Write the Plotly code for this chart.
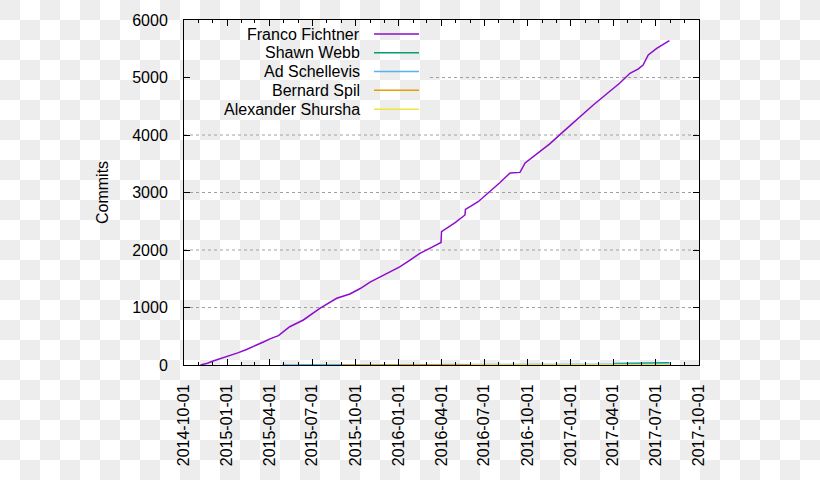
import plotly.graph_objects as go

# ---------------- data ----------------
series_names = ["Franco Fichtner", "Shawn Webb", "Ad Schellevis", "Bernard Spil", "Alexander Shursha"]
series_colors = ["#8e0ccc", "#009e73", "#56b4e9", "#e69f00", "#f0e442"]

franco_dates = ["2014-11-05", "2014-11-20", "2014-12-02", "2014-12-20", "2015-01-07", "2015-01-25",
                "2015-02-11", "2015-03-01", "2015-03-19", "2015-04-02", "2015-04-20", "2015-05-14",
                "2015-06-12", "2015-07-17", "2015-08-22", "2015-09-19", "2015-10-11", "2015-11-01",
                "2015-11-22", "2015-12-12", "2016-01-04", "2016-01-25", "2016-02-15", "2016-03-10",
                "2016-03-31", "2016-04-01", "2016-04-30", "2016-05-21", "2016-05-22", "2016-06-18",
                "2016-07-09", "2016-08-03", "2016-08-25", "2016-09-15", "2016-09-26", "2016-10-20",
                "2016-11-18", "2016-12-15", "2017-01-14", "2017-02-18", "2017-03-26", "2017-04-15",
                "2017-05-07", "2017-05-25", "2017-06-04", "2017-06-15", "2017-07-03", "2017-07-15",
                "2017-07-30"]
franco_commits = [0, 30, 70, 115, 165, 215,
                  270, 330, 400, 455, 510, 666,
                  783, 986, 1160, 1235, 1330, 1440,
                  1525, 1610, 1710, 1825, 1942, 2040,
                  2130, 2319, 2475, 2609, 2707, 2840,
                  2986, 3170, 3340, 3350, 3513, 3660,
                  3850, 4050, 4273, 4522, 4765, 4900,
                  5073, 5150, 5217, 5391, 5507, 5570,
                  5640]

shawn_dates = ["2015-06-01", "2016-06-01", "2017-04-04", "2017-04-05", "2017-06-01", "2017-07-30"]
shawn_commits = [0, 1, 2, 25, 33, 40]

ad_dates = ["2015-04-28", "2015-10-01", "2016-06-01", "2017-01-01", "2017-07-30"]
ad_commits = [1, 3, 6, 9, 12]

bernard_dates = ["2015-09-01", "2016-09-01", "2017-07-30"]
bernard_commits = [0, 2, 5]

alex_dates = ["2016-06-01", "2017-01-01", "2017-07-30"]
alex_commits = [0, 1, 3]

y_tickvals = [0, 1000, 2000, 3000, 4000, 5000, 6000]
x_tickvals = ["2014-10-01", "2015-01-01", "2015-04-01", "2015-07-01", "2015-10-01", "2016-01-01",
              "2016-04-01", "2016-07-01", "2016-10-01", "2017-01-01", "2017-04-01", "2017-07-01",
              "2017-10-01"]
x_range = ["2014-10-01", "2017-10-01"]
y_range = [0, 6000]

# ---------------- layout geometry ----------------
W, H = 820, 480
L, R, T, B = 184, 121, 20, 115
PW, PH = W - L - R, H - T - B
FONT = "Liberation Sans, Arial, sans-serif"


def px2paper_x(px):
    return (px - L) / PW


def px2paper_y(py):
    return (H - B - py) / PH


fig = go.Figure()

all_x = [franco_dates, shawn_dates, ad_dates, bernard_dates, alex_dates]
all_y = [franco_commits, shawn_commits, ad_commits, bernard_commits, alex_commits]
for name, color, xs, ys in zip(series_names, series_colors, all_x, all_y):
    fig.add_trace(go.Scatter(x=xs, y=ys, mode="lines", name=name,
                             line=dict(color=color, width=1.5), showlegend=False))

shapes = []
# checkerboard background (transparent-png look)
parts = []
for row in range(H // 20):
    for col in range(W // 20 + 1):
        if (row + col) % 2 == 0:
            x0, x1 = px2paper_x(col * 20), px2paper_x(col * 20 + 20)
            y0, y1 = px2paper_y(row * 20), px2paper_y(row * 20 + 20)
            parts.append(f"M{x0:.5f},{y0:.5f}L{x1:.5f},{y0:.5f}L{x1:.5f},{y1:.5f}L{x0:.5f},{y1:.5f}Z")
shapes.append(dict(type="path", xref="paper", yref="paper", path="".join(parts),
                   fillcolor="#ededed", line=dict(width=0), layer="below"))

# dashed horizontal grid lines (skipping the key area)
legend_right = px2paper_x(430)
for v in y_tickvals[1:-1]:
    x_start = legend_right if v >= 5000 else 0
    shapes.append(dict(type="line", xref="paper", yref="y", x0=x_start, x1=1, y0=v, y1=v,
                       line=dict(color="#a0a0a0", width=1, dash="3px,3px"), layer="below"))

# key (text right-aligned, sample line on the right)
annotations = []
row_y = [34, 52.7, 71.5, 90.3, 109.2]
for name, color, ry in zip(series_names, series_colors, row_y):
    annotations.append(dict(text=name, xref="paper", yref="paper", x=px2paper_x(362),
                            y=px2paper_y(ry), xanchor="right", yanchor="middle", showarrow=False,
                            font=dict(family=FONT, size=16, color="black")))
    shapes.append(dict(type="line", xref="paper", yref="paper", x0=px2paper_x(374), x1=px2paper_x(419),
                       y0=px2paper_y(ry), y1=px2paper_y(ry), line=dict(color=color, width=1.5)))

# y axis title
annotations.append(dict(text="Commits", xref="paper", yref="paper", x=px2paper_x(103), y=px2paper_y(193),
                        xanchor="center", yanchor="middle", textangle=-90, showarrow=False,
                        font=dict(family=FONT, size=16, color="black")))

fig.update_layout(
    width=W, height=H, autosize=False,
    margin=dict(l=L, r=R, t=T, b=B, pad=0),
    paper_bgcolor="white", plot_bgcolor="rgba(0,0,0,0)",
    font=dict(family=FONT, size=16, color="black"),
    shapes=shapes, annotations=annotations,
    showlegend=False,
)
fig.update_xaxes(
    type="date", range=x_range, tickvals=x_tickvals, ticktext=x_tickvals, tickangle=-90,
    ticks="inside", ticklen=6, tickcolor="black", showline=True, linecolor="black", linewidth=1,
    mirror="allticks", showgrid=False, zeroline=False, ticklabelstandoff=12,
    tickfont=dict(family=FONT, size=16, color="black"),
    minor=dict(dtick="M1", tick0="2014-10-01", ticks="inside", ticklen=3, tickcolor="black", showgrid=False),
)
fig.update_yaxes(
    range=y_range, tickvals=y_tickvals, ticktext=[str(v) for v in y_tickvals],
    ticks="inside", ticklen=6, tickcolor="black", showline=True, linecolor="black", linewidth=1,
    mirror="allticks", showgrid=False, zeroline=False, ticklabelstandoff=12,
    tickfont=dict(family=FONT, size=16, color="black"),
)

fig.write_html("out.html")
